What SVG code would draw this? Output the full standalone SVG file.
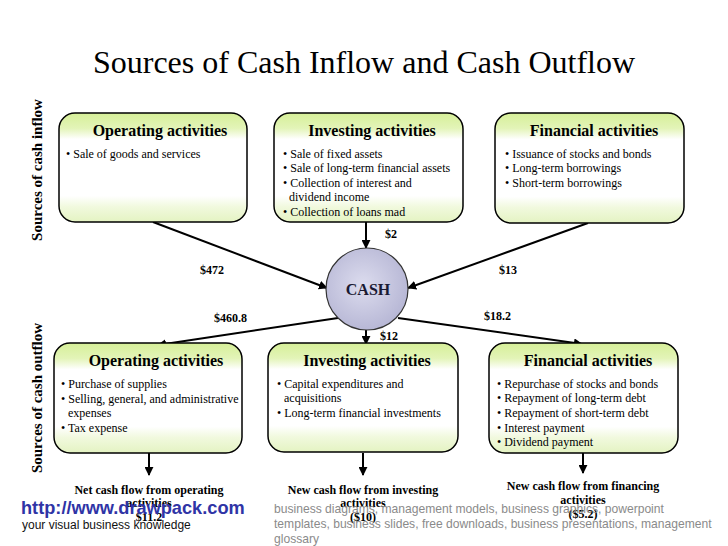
<svg xmlns="http://www.w3.org/2000/svg" width="728" height="546" viewBox="0 0 728 546">
<defs>
<linearGradient id="boxg" x1="0" y1="0" x2="0" y2="1">
<stop offset="0" stop-color="#d6ef98"/>
<stop offset="0.14" stop-color="#e3f4b8"/>
<stop offset="0.24" stop-color="#ffffff"/>
<stop offset="0.76" stop-color="#ffffff"/>
<stop offset="0.86" stop-color="#f1f9de"/>
<stop offset="1" stop-color="#e4f3c2"/>
</linearGradient>
<radialGradient id="cashg" cx="0.45" cy="0.45" r="0.55">
<stop offset="0" stop-color="#dcdcee"/>
<stop offset="1" stop-color="#b8b8d6"/>
</radialGradient>
<marker id="ah" viewBox="0 0 10 10" refX="9" refY="5" markerWidth="9" markerHeight="9" markerUnits="userSpaceOnUse" orient="auto">
<path d="M0,0 L10,5 L0,10 z" fill="#000"/>
</marker>
<style>
.box{fill:url(#boxg);stroke:#000;stroke-width:1.5}
.hd{font-family:"Liberation Serif",serif;font-weight:bold;font-size:16px;text-anchor:middle;fill:#000}
.bl{font-family:"Liberation Serif",serif;font-size:12px;fill:#000}
.amt{font-family:"Liberation Serif",serif;font-weight:bold;font-size:12px;fill:#000}
.ft{font-family:"Liberation Serif",serif;font-weight:bold;font-size:12px;text-anchor:middle;fill:#000}
.side{font-family:"Liberation Serif",serif;font-weight:bold;font-size:15px;text-anchor:middle;fill:#000}
.ln{stroke:#000;stroke-width:2;fill:none;marker-end:url(#ah)}
.wm1{font-family:"Liberation Sans",sans-serif;font-weight:bold;font-size:18.2px;fill:#2f34a6}
.wm2{font-family:"Liberation Sans",sans-serif;font-size:12px;fill:#111}
.wm3{font-family:"Liberation Sans",sans-serif;font-size:12.1px;fill:#8a8a8a}
</style>
</defs>
<rect width="728" height="546" fill="#fff"/>
<text x="364" y="73" font-family="Liberation Serif, serif" font-size="32" text-anchor="middle" fill="#000">Sources of Cash Inflow and Cash Outflow</text>
<text class="side" transform="translate(42,170) rotate(-90)">Sources of cash inflow</text>
<text class="side" transform="translate(42,398) rotate(-90)">Sources of cash outflow</text>

<g id="connectors">
<line class="ln" x1="153" y1="222" x2="327" y2="288"/>
<line class="ln" x1="366" y1="222" x2="366" y2="248"/>
<line class="ln" x1="588" y1="223" x2="408" y2="288"/>
<line class="ln" x1="338" y1="318" x2="158" y2="345"/>
<line class="ln" x1="366" y1="330" x2="366" y2="344"/>
<line class="ln" x1="398" y1="318" x2="582" y2="344"/>
<line class="ln" x1="149" y1="453" x2="149" y2="475"/>
<line class="ln" x1="363" y1="453" x2="363" y2="475"/>
<line class="ln" x1="583" y1="453" x2="583" y2="473"/>
<text class="amt" x="385" y="238">$2</text>
<text class="amt" x="200" y="274">$472</text>
<text class="amt" x="499" y="274">$13</text>
<text class="amt" x="214" y="322">$460.8</text>
<text class="amt" x="484" y="320">$18.2</text>
<text class="amt" x="380" y="340">$12</text>
</g>

<g id="in-operating">
<rect class="box" x="59" y="113" width="188" height="109" rx="16"/>
<text class="hd" x="160" y="136">Operating activities</text>
<text class="bl" x="66" y="158">• Sale of goods and services</text>
</g>
<g id="in-investing">
<rect class="box" x="274" y="113" width="189" height="109" rx="16"/>
<text class="hd" x="372" y="136">Investing activities</text>
<text class="bl" x="283" y="158">• Sale of fixed assets</text>
<text class="bl" x="283" y="172">• Sale of long-term financial assets</text>
<text class="bl" x="283" y="187">• Collection of interest and</text>
<text class="bl" x="289" y="201">dividend income</text>
<text class="bl" x="283" y="216">• Collection of loans mad</text>
</g>
<g id="in-financial">
<rect class="box" x="495" y="113" width="189" height="110" rx="16"/>
<text class="hd" x="594" y="136">Financial activities</text>
<text class="bl" x="505" y="158">• Issuance of stocks and bonds</text>
<text class="bl" x="505" y="172">• Long-term borrowings</text>
<text class="bl" x="505" y="187">• Short-term borrowings</text>
</g>

<g id="cash">
<circle cx="367" cy="289" r="41" fill="url(#cashg)" stroke="#333" stroke-width="1.2"/>
<text x="368" y="295" font-family="Liberation Serif, serif" font-weight="bold" font-size="16" text-anchor="middle" fill="#1a1a33">CASH</text>
</g>

<g id="out-operating">
<rect class="box" x="54" y="343" width="188" height="110" rx="16"/>
<text class="hd" x="156" y="366">Operating activities</text>
<text class="bl" x="61" y="388">• Purchase of supplies</text>
<text class="bl" x="61" y="403">• Selling, general, and administrative</text>
<text class="bl" x="68" y="417">expenses</text>
<text class="bl" x="61" y="432">• Tax expense</text>
</g>
<g id="out-investing">
<rect class="box" x="268" y="343" width="190" height="109" rx="16"/>
<text class="hd" x="367" y="366">Investing activities</text>
<text class="bl" x="277" y="388">• Capital expenditures and</text>
<text class="bl" x="284" y="402">acquisitions</text>
<text class="bl" x="277" y="417">• Long-term financial investments</text>
</g>
<g id="out-financial">
<rect class="box" x="489" y="343" width="189" height="110" rx="16"/>
<text class="hd" x="588" y="366">Financial activities</text>
<text class="bl" x="497" y="388">• Repurchase of stocks and bonds</text>
<text class="bl" x="497" y="402">• Repayment of long-term debt</text>
<text class="bl" x="497" y="417">• Repayment of short-term debt</text>
<text class="bl" x="497" y="432">• Interest payment</text>
<text class="bl" x="497" y="446">• Dividend payment</text>
</g>

<g id="net-operating">
<text class="ft" x="149" y="494">Net cash flow from operating</text>
<text class="ft" x="149" y="507">activities</text>
<text class="ft" x="149" y="521">$11.2</text>
</g>
<g id="net-investing">
<text class="ft" x="363" y="494">New cash flow from investing</text>
<text class="ft" x="363" y="507">activities</text>
<text class="ft" x="363" y="521">($10)</text>
</g>
<g id="net-financing">
<text class="ft" x="583" y="490">New cash flow from financing</text>
<text class="ft" x="583" y="504">activities</text>
<text class="ft" x="583" y="518">($5.2)</text>
</g>

<g id="watermark">
<text class="wm1" x="21" y="514">http://www.drawpack.com</text>
<text class="wm2" x="22" y="529">your visual business knowledge</text>
<text class="wm3" x="274" y="513">business diagrams, management models, business graphics, powerpoint</text>
<text class="wm3" x="274" y="528">templates, business slides, free downloads, business presentations, management</text>
<text class="wm3" x="274" y="543">glossary</text>
</g>
</svg>
